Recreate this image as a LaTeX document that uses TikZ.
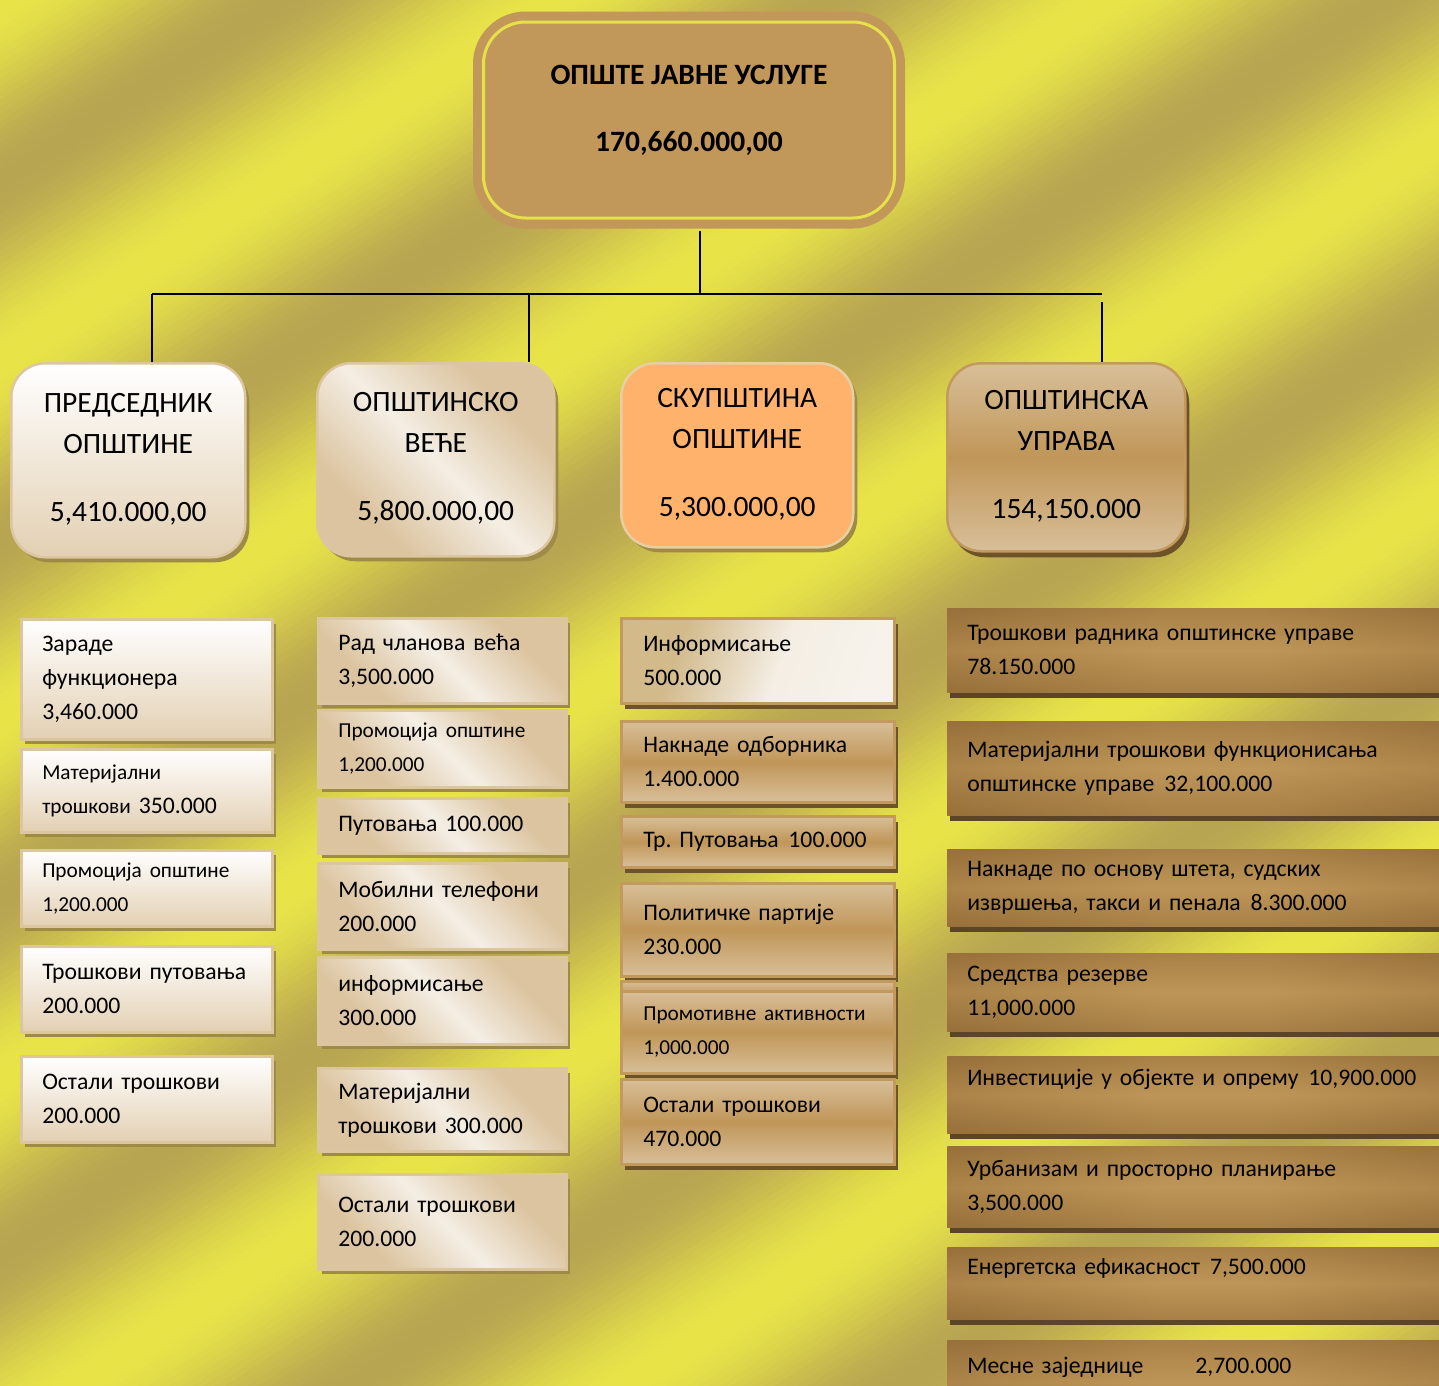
\documentclass[tikz,border=0pt]{standalone}
\usepackage{fontspec}
\setmainfont{Carlito}
\usetikzlibrary{shadows}

% colours
\definecolor{bgyellow}{HTML}{E8E448}
\definecolor{bgolive}{HTML}{B8A552}
\definecolor{titletan}{HTML}{C2975A}
\definecolor{titleline}{HTML}{E6E04A}
\definecolor{predbot}{HTML}{E3D0B3}
\definecolor{predline}{HTML}{DCC6A0}
\definecolor{beige}{HTML}{DCC4A0}
\definecolor{cream}{HTML}{F4EEE4}
\definecolor{skuporange}{HTML}{FFB26B}
\definecolor{skupline}{HTML}{E6CFA3}
\definecolor{tanlight}{HTML}{D8BF99}
\definecolor{tanmid}{HTML}{C09658}
\definecolor{tanline}{HTML}{C29A5E}
\definecolor{tanshadow}{HTML}{6E5228}
\definecolor{barmid}{HTML}{BE9658}
\definecolor{baredge}{HTML}{97703A}
\definecolor{barshadow}{HTML}{5C4527}
\definecolor{oliveshadow}{HTML}{9E8B45}

\newcommand\bodyfont{\fontsize{23.7}{34}\selectfont}
\newcommand\smallfont{\fontsize{21.3}{30}\selectfont}
\newcommand\headfont{\fontsize{29.5}{41}\selectfont}
\newcommand\gap{~\hspace{2pt}}

\pgfdeclarehorizontalshading{parch}{100bp}{color(0bp)=(beige); color(30bp)=(beige); color(50bp)=(cream); color(70bp)=(beige); color(100bp)=(beige)}
\pgfdeclarehorizontalshading{infoshade}{100bp}{color(0bp)=(tanlight!80!bgolive); color(32bp)=(tanlight!80!bgolive); color(55bp)=(cream); color(78bp)=(cream!70!white); color(100bp)=(cream)}
\pgfdeclarehorizontalshading{barshade}{100bp}{color(0bp)=(baredge); color(25bp)=(baredge); color(45bp)=(barmid); color(55bp)=(barmid); color(75bp)=(baredge); color(100bp)=(baredge)}

\tikzset{
  wire/.style={line width=2pt, black},
  lightshadow/.style={drop shadow={shadow xshift=4pt, shadow yshift=-5pt, fill=oliveshadow, opacity=1}},
  darkshadow/.style={drop shadow={shadow xshift=4pt, shadow yshift=-6pt, fill=tanshadow, opacity=1}},
  barshadowed/.style={drop shadow={shadow xshift=3pt, shadow yshift=-6pt, fill=barshadow, opacity=1}},
  titlebox/.style={rounded corners=42pt, minimum width=411pt, minimum height=196pt, fill=titletan,
    draw=titletan, line width=9pt, double=titleline, double distance=3pt, align=center,
    font=\headfont\bfseries, inner sep=0pt},
  head/.style={anchor=north west, rounded corners=34pt, inner sep=0pt, align=center,
    font=\headfont, line width=2.5pt},
  card/.style={anchor=north west, inner ysep=0pt, align=left, font=\bodyfont, line width=2.5pt},
  colone/.style={card, text width=209pt, inner xsep=21pt, top color=white, bottom color=predbot,
    draw=predline, lightshadow},
  coltwo/.style={card, text width=208pt, inner xsep=20pt, shading=parch, shading angle=45,
    draw=predline, lightshadow},
  colthree/.style={card, text width=229pt, inner xsep=22pt, top color=tanlight, bottom color=tanlight,
    middle color=tanmid, draw=tanline, darkshadow},
  colfour/.style={card, text width=490pt, inner xsep=20pt, shading=barshade, draw=none, barshadowed,
    path picture={\shade[top color=baredge, bottom color=baredge, middle color=barmid, opacity=0.55]
      (path picture bounding box.south west) rectangle (path picture bounding box.north east);}}
}

\begin{document}
\begin{tikzpicture}[x=1pt, y=-1pt]
\useasboundingbox (0,0) rectangle (1439,1385);
\clip (0,0) rectangle (1439,1385);

% striped background
\foreach \p in {0,6,...,1956}{
  \pgfmathsetmacro\t{50-50*cos(\p*1.2)}
  \fill[bgolive!\t!bgyellow] ({\p*0.546-2600*0.838},{\p*0.838+2600*0.546})
    -- ({\p*0.546+2600*0.838},{\p*0.838-2600*0.546})
    -- ({(\p+7)*0.546+2600*0.838},{(\p+7)*0.838-2600*0.546})
    -- ({(\p+7)*0.546-2600*0.838},{(\p+7)*0.838+2600*0.546}) -- cycle;
}

% top box
\node[titlebox] (title) at (689,120) {ОПШТЕ ЈАВНЕ УСЛУГЕ\\[26pt]170,660.000,00\\[-17pt]\mbox{}};

% second level
\node[head, minimum width=234pt, minimum height=194pt, top color=white, bottom color=predbot,
  draw=predline, lightshadow] (pred) at (10,362) {ПРЕДСЕДНИК\\ОПШТИНЕ\\[27pt]5,410.000,00\\[-35pt]\mbox{}};
\node[head, minimum width=237pt, minimum height=193pt, shading=parch, shading angle=45,
  draw=predline, lightshadow] (vece) at (316,362) {ОПШТИНСКО\\ВЕЋЕ\\[27pt]5,800.000,00\\[-35pt]\mbox{}};
\node[head, minimum width=232pt, minimum height=184pt, fill=skuporange, draw=skupline,
  lightshadow] (skup) at (620,362) {СКУПШТИНА\\ОПШТИНЕ\\[27pt]5,300.000,00\\[-35pt]\mbox{}};
\node[head, minimum width=238pt, minimum height=188pt, top color=tanlight, bottom color=tanlight,
  middle color=tanmid, draw=tanline, darkshadow] (upr) at (946,362) {ОПШТИНСКА\\УПРАВА\\[27pt]154,150.000\\[-35pt]\mbox{}};

% connectors
\coordinate (busL) at (152,294);
\coordinate (busV) at (529,294);
\coordinate (busM) at (700,294);
\coordinate (busR) at (1102,294);
\draw[wire] ([yshift=-8pt]title.south -| busM) -- (busM);
\draw[wire] (busL) -- (busR);
\draw[wire] (busL) -- (busL |- pred.north);
\draw[wire] (busV) -- (busV |- vece.north);
\draw[wire] ([yshift=-8pt]busR) -- (busR |- upr.north);

% column 1
\node[colone, minimum height=120pt] (zar) at (20,618) {Зараде\\функционера\\3,460.000};
\node[colone, minimum height=83pt] (mat1) at (20,748) {\smallfont Материјални\\трошкови~{\bodyfont 350.000}};
\node[colone, minimum height=76pt] (prom1) at (20,849) {\smallfont Промоција општине\\1,200.000};
\node[colone, minimum height=86pt] (put1) at (20,945) {Трошкови путовања\\200.000};
\node[colone, minimum height=86pt] (ost1) at (20,1055) {Остали трошкови\\200.000};

% column 2
\node[coltwo, minimum height=85pt] (rad) at (317,617) {Рад чланова већа\\3,500.000};
\node[coltwo, minimum height=77pt] (prom2) at (317,709) {\smallfont Промоција општине\\1,200.000};
\node[coltwo, minimum height=55pt] (put2) at (317,797) {Путовања 100.000};
\node[coltwo, minimum height=86pt] (mob) at (317,862) {Мобилни телефони\\200.000};
\node[coltwo, minimum height=87pt] (inf2) at (317,956) {информисање\\300.000};
\node[coltwo, minimum height=83pt] (mat2) at (317,1067) {Материјални\\трошкови 300.000};
\node[coltwo, minimum height=95pt] (ost2) at (317,1173) {Остали трошкови\\200.000};

% column 3
\node[colthree, minimum height=85pt, shading=infoshade, shading angle=-20] (inf3) at (620,617) {Информисање\\500.000};
\node[colthree, minimum height=81pt] (nak) at (620,720) {Накнаде одборника\\1.400.000};
\node[colthree, minimum height=51pt] (put3) at (620,815) {\mbox{Тр.~Путовања\gap 100.000}};
\node[colthree, minimum height=93pt] (pol) at (620,882) {Политичке партије\\230.000};
\node[colthree, minimum height=30pt] (promb) at (620,980) {};
\node[colthree, minimum height=82pt] (prom3) at (620,990) {\smallfont Промотивне активности\\1,000.000};
\node[colthree, minimum height=85pt] (ost3) at (620,1078) {Остали трошкови\\470.000};

% column 4
\node[colfour, minimum height=84pt] (rdn) at (946,607) {Трошкови радника општинске управе\\78.150.000};
\node[colfour, minimum height=94pt] (mat4) at (946,720) {Материјални трошкови функционисања\\општинске управе\gap 32,100.000};
\node[colfour, minimum height=77pt] (nkn) at (946,848) {Накнаде по основу штета, судских\\извршења, такси и пенала\gap 8.300.000};
\node[colfour, minimum height=78pt] (rez) at (946,952) {Средства резерве\\11,000.000};
\node[colfour, minimum height=77pt] (inv) at (946,1055) {Инвестиције у објекте и опрему\gap 10,900.000\\\mbox{}};
\node[colfour, minimum height=81pt] (urb) at (946,1145) {Урбанизам и просторно планирање\\3,500.000};
\node[colfour, minimum height=72pt] (ener) at (946,1246) {Енергетска ефикасност\gap 7,500.000\\\mbox{}};
\node[colfour, minimum height=84pt] (mz) at (946,1339) {Месне заједнице\hspace{52pt}2,700.000\\\mbox{}};

\end{tikzpicture}
\end{document}
